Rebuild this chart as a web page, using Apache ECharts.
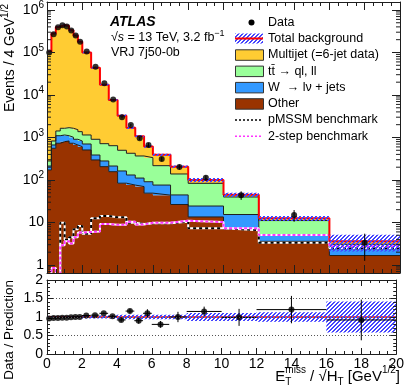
<!DOCTYPE html>
<html>
<head>
<meta charset="utf-8">
<script src="https://cdn.jsdelivr.net/npm/echarts@6/dist/echarts.min.js"></script>
<style>
  html, body { margin: 0; padding: 0; background: #fff; }
  #chart { width: 407px; height: 386px; }
</style>
</head>
<body>
<div id="chart"></div>
<script>
// bin edges in ETmiss / sqrt(HT) [GeV^1/2]
const binEdges = [0, 0.25, 0.5, 0.75, 1, 1.25, 1.5, 1.75, 2, 2.5, 3, 3.5, 4, 4.5, 5, 5.5, 6, 7, 8, 10, 12, 16, 20];

// stacked backgrounds (events / 4 GeV^1/2), bottom to top
const other    = [172, 557, 731, 797, 827, 731, 666, 608, 508, 296, 206, 157, 84, 76, 70, 49, 44, 26.5, 13.5, 7.0, 3.6, 1.67];
const wJets    = [41, 109, 371, 348, 275, 280, 241, 219, 195, 91, 74, 56, 79, 55, 41, 42, 32, 18, 10.9, 8.4, 1.5, 0.71];
const ttbar    = [67, 161, 320, 500, 599, 634, 620, 543, 442, 520, 435, 428, 337, 294, 256, 244, 141, 94, 59, 24.4, 6.0, 0.69];
const multijet = [103700, 277200, 398600, 442400, 416300, 331400, 248500, 177600, 98900, 43100, 16600, 6960, 2760, 1265, 703, 275, 173, 67, 16.4, 5.2, 1.4, 0.53];
const bkgRelErr = [0.02, 0.02, 0.02, 0.02, 0.02, 0.02, 0.02, 0.02, 0.04, 0.04, 0.04, 0.04, 0.06, 0.06, 0.06, 0.06, 0.06, 0.06, 0.11, 0.11, 0.13, 0.42];

// signal benchmarks
const pmssm   = [0.1, 0.1, 0.1, 9.9, 3.9, 4.5, 6.9, 8.3, 5.4, 12.5, 14.2, 13.2, 13.2, 9.9, 9.2, 9.6, 9.6, 10.4, 7.3, 6.6, 3.35, 2.47];
const twoStep = [0.5, 0.85, 0.3, 2.9, 3.6, 3.2, 4.5, 5.8, 6.0, 6.1, 9.2, 8.8, 8.8, 10.4, 9.0, 9.9, 9.9, 11, 10.2, 7.3, 5.1, 2.75];

// data
const dataY   = [100000, 270000, 390000, 435000, 410000, 330000, 250000, 179000, 105000, 46000, 19000, 7800, 3000, 1960, 960, 665, 310, 203, 113, 44, 15, 3.35];
const dataErr = [320, 520, 620, 660, 640, 570, 500, 420, 320, 215, 140, 90, 160, 125, 85, 72, 35, 28, 15, 10, 4.6, 2.1];

// ratio panel
const ratioY   = [0.96, 0.97, 0.97, 0.98, 0.98, 0.99, 1.0, 1.0, 1.04, 1.05, 1.1, 1.02, 0.92, 1.16, 0.9, 1.1, 0.8, 1.0, 1.15, 0.99, 1.2, 0.92];
const ratioErr = [0.005, 0.005, 0.005, 0.005, 0.005, 0.005, 0.006, 0.007, 0.01, 0.015, 0.02, 0.03, 0.05, 0.06, 0.08, 0.11, 0.09, 0.14, 0.13, 0.23, 0.37, 0.55];

const xTickLabels = [0, 2, 4, 6, 8, 10, 12, 14, 16, 18, 20];

const F = '"Liberation Sans", Arial, Helvetica, sans-serif';
const yMin = 0.648, yMax = 1.54e6;
const nBins = binEdges.length - 1;
const centers = binEdges.slice(0, -1).map((x, i) => (x + binEdges[i + 1]) / 2);

// hatch pattern for the background uncertainty ("/" lines, 2px thick)
const hatch = document.createElement('canvas');
hatch.width = 4; hatch.height = 4;
const hc = hatch.getContext('2d');
hc.fillStyle = '#4545ff';
for (let i = 0; i < 4; i++) { hc.fillRect(i, 3 - i, 1, 1); hc.fillRect(i, (4 - i) % 4, 1, 1); }
const hatchFill = { image: hatch, repeat: 'repeat' };

// cumulative stack
const comps = [other, wJets, ttbar, multijet];
const fills = ['#993300', '#3399ff', '#99ff99', '#ffcc33'];
const cum = [];
let run = new Array(nBins).fill(0);
comps.forEach(c => { run = run.map((v, i) => v + c[i]); cum.push(run.slice()); });
const total = cum[cum.length - 1];

function stepData(vals) {
  const d = binEdges.slice(0, -1).map((x, i) => [x, vals[i]]);
  d.push([binEdges[nBins], vals[nBins - 1]]);
  return d;
}

function polySeries(lo, hi, fill, xi, yi, z) {
  return {
    type: 'custom', xAxisIndex: xi, yAxisIndex: yi, z: z, silent: true, clip: true,
    data: [[1, 1]],
    renderItem: function (params, api) {
      const pts = [];
      for (let i = 0; i < nBins; i++) {
        pts.push(api.coord([binEdges[i], hi[i]]));
        pts.push(api.coord([binEdges[i + 1], hi[i]]));
      }
      for (let i = nBins - 1; i >= 0; i--) {
        pts.push(api.coord([binEdges[i + 1], lo[i]]));
        pts.push(api.coord([binEdges[i], lo[i]]));
      }
      return { type: 'polygon', shape: { points: pts }, style: { fill: fill } };
    }
  };
}

function stepLine(vals, color, width, z, dash) {
  return {
    type: 'line', xAxisIndex: 0, yAxisIndex: 0, step: 'end', z: z, silent: true,
    data: stepData(vals), symbol: 'none', showSymbol: false, clip: true,
    lineStyle: { color: color, width: width, type: dash || 'solid' }
  };
}

const series = [];
// filled stack
comps.forEach((c, k) => {
  const lo = k === 0 ? new Array(nBins).fill(yMin / 2) : cum[k - 1];
  series.push(polySeries(lo, cum[k], fills[k], 0, 0, 1));
});
// outlines
cum.slice(0, 3).forEach(c => series.push(stepLine(c, '#1e1e1e', 1, 2)));
// signals
series.push(stepLine(pmssm, '#ffffff', 2, 3));
series.push(stepLine(pmssm, '#000000', 2, 3, [3, 3]));
series.push(stepLine(twoStep, '#ffffff', 2, 3));
series.push(stepLine(twoStep, '#ff33ff', 2, 3, [3, 2]));
// total background + uncertainty
series.push(stepLine(total, '#ff0000', 2, 4));
series.push(polySeries(total.map((t, i) => t * (1 - bkgRelErr[i])), total.map((t, i) => t * (1 + bkgRelErr[i])), hatchFill, 0, 0, 5));
// data points
series.push({
  type: 'custom', xAxisIndex: 0, yAxisIndex: 0, z: 6, silent: true, clip: true,
  data: centers.map((c, i) => [c, dataY[i], dataErr[i]]),
  renderItem: function (params, api) {
    const x = api.value(0), y = api.value(1), e = api.value(2);
    const a = api.coord([x, y + e]);
    const b = api.coord([x, Math.max(y - e, yMin)]);
    return { type: 'line', shape: { x1: a[0], y1: a[1], x2: b[0], y2: b[1] }, style: { stroke: '#000', lineWidth: 1 } };
  }
});
series.push({
  type: 'scatter', xAxisIndex: 0, yAxisIndex: 0, z: 7, silent: true,
  data: centers.map((c, i) => [c, dataY[i]]), symbol: 'circle', symbolSize: 6,
  itemStyle: { color: '#000' }
});
// log minor ticks
const minorLog = [0.7, 0.8, 0.9];
for (let k = 0; k <= 6; k++) for (let m = 2; m <= 9; m++) { const v = m * Math.pow(10, k); if (v < yMax) minorLog.push(v); }
series.push({
  type: 'custom', xAxisIndex: 0, yAxisIndex: 0, z: 10, silent: true,
  data: minorLog.map(v => [0, v]),
  renderItem: function (params, api) {
    const v = api.value(1);
    const l = api.coord([0, v]), r = api.coord([20, v]);
    const st = { stroke: '#1e1e1e', lineWidth: 1 };
    return { type: 'group', children: [
      { type: 'line', shape: { x1: l[0], y1: l[1], x2: l[0] + 4, y2: l[1] }, style: st },
      { type: 'line', shape: { x1: r[0] - 4, y1: r[1], x2: r[0], y2: r[1] }, style: st }
    ] };
  }
});

// ratio panel
series.push({
  type: 'line', xAxisIndex: 2, yAxisIndex: 2, z: 3, silent: true, symbol: 'none',
  data: [[0, 1], [20, 1]], lineStyle: { color: '#ff0000', width: 1.5 }
});
series.push(polySeries(bkgRelErr.map(e => 1 - e), bkgRelErr.map(e => 1 + e), hatchFill, 2, 2, 4));
series.push({
  type: 'custom', xAxisIndex: 2, yAxisIndex: 2, z: 6, silent: true, clip: true,
  data: centers.map((c, i) => [c, ratioY[i], ratioErr[i], binEdges[i], binEdges[i + 1]]),
  renderItem: function (params, api) {
    const x = api.value(0), y = api.value(1), e = api.value(2);
    const a = api.coord([x, y + e]), b = api.coord([x, y - e]);
    const l = api.coord([api.value(3), y]), r = api.coord([api.value(4), y]);
    const st = { stroke: '#000', lineWidth: 1 };
    return { type: 'group', children: [
      { type: 'line', shape: { x1: a[0], y1: a[1], x2: b[0], y2: b[1] }, style: st },
      { type: 'line', shape: { x1: l[0], y1: l[1], x2: r[0], y2: r[1] }, style: st }
    ] };
  }
});
series.push({
  type: 'scatter', xAxisIndex: 2, yAxisIndex: 2, z: 7, silent: true,
  data: centers.map((c, i) => [c, ratioY[i]]), symbol: 'circle', symbolSize: 6,
  itemStyle: { color: '#000' }
});

const lineSt = { color: '#1e1e1e', width: 1 };
function xAx(grid, pos, labels, tick) {
  return {
    type: 'value', gridIndex: grid, position: pos, min: 0, max: 20, interval: 2, z: 10,
    axisLine: { show: true, onZero: false, lineStyle: lineSt },
    axisTick: { show: true, inside: true, length: tick, lineStyle: lineSt },
    minorTick: { show: true, splitNumber: 4, length: tick / 2, lineStyle: lineSt },
    splitLine: { show: false },
    axisLabel: {
      show: labels, color: '#000', fontFamily: F, fontSize: 14, margin: 3,
      formatter: v => (xTickLabels.indexOf(v) >= 0 ? String(v) : '')
    }
  };
}
const supRich = {
  b: { fontSize: 14, fontFamily: F, color: '#000' },
  s: { fontSize: 10, fontFamily: F, color: '#000', padding: [0, 0, 9, 0] }
};
function logAx(pos, labels) {
  return {
    type: 'log', gridIndex: 0, position: pos, min: yMin, max: yMax, logBase: 10, splitNumber: 7, z: 10,
    axisLine: { show: true, onZero: false, lineStyle: lineSt },
    axisTick: { show: true, inside: true, length: 8, lineStyle: lineSt },
    splitLine: { show: false },
    axisLabel: {
      show: labels, color: '#000', fontFamily: F, fontSize: 14, margin: 3,
      showMinLabel: false, showMaxLabel: false, rich: supRich,
      formatter: function (v) {
        const e = Math.log10(v), r = Math.round(e);
        if (Math.abs(e - r) > 1e-6) return '';
        if (r === 0) return '1';
        if (r === 1) return '10';
        return '{b|10}{s|' + r + '}';
      }
    }
  };
}
function ratioAx(pos, labels) {
  return {
    type: 'value', gridIndex: 1, position: pos, min: 0, max: 2, interval: 0.5, z: 10,
    axisLine: { show: true, onZero: false, lineStyle: lineSt },
    axisTick: { show: true, inside: true, length: 6, lineStyle: lineSt },
    minorTick: { show: true, splitNumber: 5, length: 3, lineStyle: lineSt },
    splitLine: { show: labels, lineStyle: { color: '#555', width: 1, type: [1, 2] } },
    axisLabel: { show: labels, color: '#000', fontFamily: F, fontSize: 14, margin: 4 }
  };
}

// x-axis title laid out piece by piece
const mctx = document.createElement('canvas').getContext('2d');
function textW(t, size) { mctx.font = size + 'px ' + F; return mctx.measureText(t).width; }
const xTitle = [
  { t: 'E', s: 15, dy: 0 },
  { t: 'miss', s: 10, dy: -7, under: 'T' },
  { t: ' / \u221AH', s: 15, dy: 0 },
  { t: 'T', s: 10, dy: 5 },
  { t: ' [GeV', s: 15, dy: 0 },
  { t: '1/2', s: 10, dy: -7 },
  { t: ']', s: 15, dy: 0 }
];
const xTitleW = xTitle.reduce((a, p) => a + textW(p.t, p.s), 0);
let cx = 400 - xTitleW;
const graphics = [];
xTitle.forEach(p => {
  graphics.push({ type: 'text', x: cx, y: 377 + p.dy, style: { text: p.t, font: p.s + 'px ' + F, fill: '#000', align: 'left', verticalAlign: 'middle' } });
  if (p.under) graphics.push({ type: 'text', x: cx, y: 382, style: { text: p.under, font: '10px ' + F, fill: '#000', align: 'left', verticalAlign: 'middle' } });
  cx += textW(p.t, p.s);
});

const titleRich = {
  n: { fontSize: 14, fontFamily: F, color: '#000' },
  s: { fontSize: 10, fontFamily: F, color: '#000', padding: [0, 0, 9, 0] }
};
graphics.push({ type: 'text', x: 10, y: 4, rotation: Math.PI / 2,
  style: { text: '{n|Events / 4 GeV}{s|1/2}', rich: titleRich, align: 'right', verticalAlign: 'middle', fill: '#000' } });
graphics.push({ type: 'text', x: 9, y: 280, rotation: Math.PI / 2,
  style: { text: 'Data / Prediction', font: '13.5px ' + F, align: 'right', verticalAlign: 'middle', fill: '#000' } });

// ATLAS label
graphics.push({ type: 'text', x: 110, y: 22.5, style: { text: 'ATLAS', font: 'italic bold 14px ' + F, fill: '#000', align: 'left', verticalAlign: 'middle' } });
graphics.push({ type: 'text', x: 111, y: 38, style: {
  text: '\u221A{i|s} = 13 TeV, 3.2 fb{s|\u22121}', font: '12.5px ' + F, fill: '#000', align: 'left', verticalAlign: 'middle',
  rich: { i: { fontStyle: 'italic', fontSize: 12.5, fontFamily: F, color: '#000' }, s: { fontSize: 9, fontFamily: F, color: '#000', padding: [0, 0, 8, 0] } }
} });
graphics.push({ type: 'text', x: 111, y: 52.5, style: { text: 'VRJ 7j50-0b', font: '12.5px ' + F, fill: '#000', align: 'left', verticalAlign: 'middle' } });

// legend
const legX = 235, legW = 28, legTextX = 268;
const legRows = [22.5, 38.5, 54.8, 71.1, 87.4, 103.7, 120, 136.3];
const legText = ['Data', 'Total background', 'Multijet (=6-jet data)', 't\u0074\u0304 \u2192 ql, ll', 'W  \u2192 l\u03BD + jets', 'Other', 'pMSSM benchmark', '2-step benchmark'];
legText.forEach((t, i) => {
  graphics.push({ type: 'text', x: legTextX, y: legRows[i], style: { text: t, font: '12.5px ' + F, fill: '#000', align: 'left', verticalAlign: 'middle' } });
});
graphics.push({ type: 'circle', shape: { cx: legX + legW / 2 + 2.5, cy: legRows[0], r: 3 }, style: { fill: '#000' } });
graphics.push({ type: 'rect', shape: { x: legX, y: legRows[1] - 5, width: legW, height: 10 }, style: { fill: hatchFill } });
graphics.push({ type: 'line', shape: { x1: legX, y1: legRows[1], x2: legX + legW, y2: legRows[1] }, style: { stroke: '#ff0000', lineWidth: 2 } });
[3, 2, 1, 0].forEach((k, j) => {
  graphics.push({ type: 'rect', shape: { x: legX + 0.5, y: legRows[2 + j] - 5, width: legW, height: 10.5 }, style: { fill: fills[k], stroke: '#333', lineWidth: 1 } });
});
graphics.push({ type: 'line', shape: { x1: legX, y1: legRows[6], x2: legX + legW, y2: legRows[6] }, style: { stroke: '#000', lineWidth: 1.3, lineDash: [2, 2] } });
graphics.push({ type: 'line', shape: { x1: legX, y1: legRows[7], x2: legX + legW, y2: legRows[7] }, style: { stroke: '#ff33ff', lineWidth: 1.5, lineDash: [2, 2] } });

const chart = echarts.init(document.getElementById('chart'));
chart.setOption({
  animation: false,
  backgroundColor: '#fff',
  grid: [
    { left: 47, right: 7, top: 2, height: 271 },
    { left: 47, right: 7, top: 280, height: 74 }
  ],
  xAxis: [xAx(0, 'bottom', false, 8), xAx(0, 'top', false, 8), xAx(1, 'bottom', true, 6), xAx(1, 'top', false, 6)],
  yAxis: [logAx('left', true), logAx('right', false), ratioAx('left', true), ratioAx('right', false)],
  series: series,
  graphic: graphics
});
window.addEventListener('resize', () => chart.resize());
</script>
</body>
</html>
